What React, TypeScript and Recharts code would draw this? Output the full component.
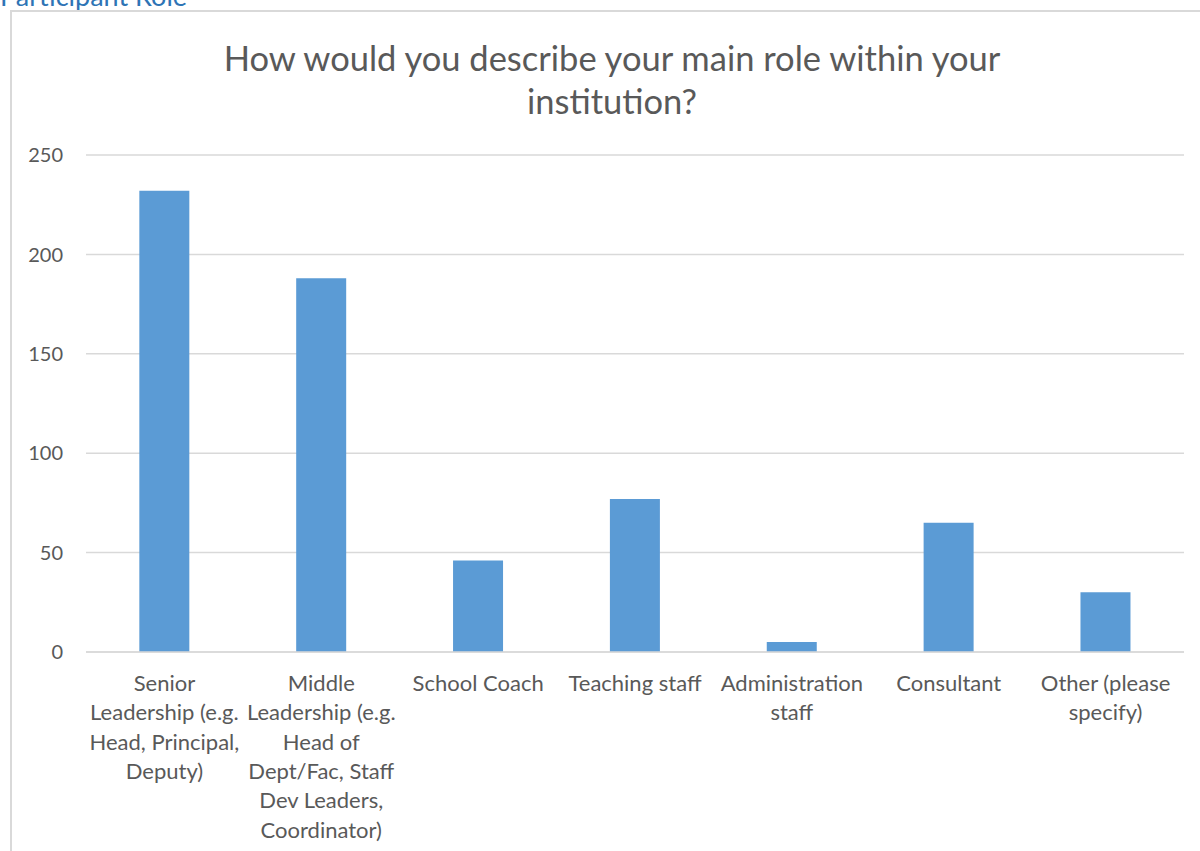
import React from 'react';
import { BarChart, Bar, XAxis, YAxis, CartesianGrid } from 'recharts';

const roles = [
  'Senior\nLeadership (e.g.\nHead, Principal,\nDeputy)',
  'Middle\nLeadership (e.g.\nHead of\nDept/Fac, Staff\nDev Leaders,\nCoordinator)',
  'School Coach',
  'Teaching staff',
  'Administration\nstaff',
  'Consultant',
  'Other (please\nspecify)',
];
const counts = [232, 188, 46, 77, 5, 65, 30];
const yTicks = [0, 50, 100, 150, 200, 250];

const data = roles.map((role, i) => ({ role, count: counts[i] }));

const FONT = 'Lato, "Open Sans", sans-serif';

const RoleTick = ({ x, y, payload }: any) => {
  const lines = String(payload.value).split('\n');
  return (
    <text x={x} y={y} textAnchor="middle" fill="#595959" fontSize={22} fontFamily={FONT}>
      {lines.map((line, i) => (
        <tspan key={i} x={x} dy={i === 0 ? 31 : 29.3}>
          {line}
        </tspan>
      ))}
    </text>
  );
};

export default function App() {
  return (
    <div
      style={{
        position: 'fixed',
        left: 0,
        top: 0,
        width: 1200,
        height: 851,
        overflow: 'hidden',
        background: '#fff',
        fontFamily: FONT,
      }}
    >
      <div
        style={{
          position: 'absolute',
          left: 0,
          top: -21,
          fontSize: 27,
          color: '#2E74B5',
          whiteSpace: 'nowrap',
        }}
      >
        Participant Role
      </div>
      <div
        style={{
          position: 'absolute',
          left: 10,
          top: 10,
          width: 1220,
          height: 880,
          border: '2px solid #d9d9d9',
          boxSizing: 'border-box',
        }}
      />
      <div
        style={{
          position: 'absolute',
          left: 0,
          width: 1224,
          top: 36,
          textAlign: 'center',
          fontSize: 34.5,
          lineHeight: '43px',
          color: '#595959',
        }}
      >
        How would you describe your main role within your
        <br />
        institution?
      </div>
      <div style={{ position: 'absolute', left: 0, top: 0 }}>
        <BarChart
          width={1200}
          height={851}
          data={data}
          margin={{ top: 155, right: 16, bottom: 0, left: 10 }}
          barCategoryGap="34%"
        >
          <CartesianGrid vertical={false} stroke="#d9d9d9" strokeWidth={1.5} />
          <XAxis
            dataKey="role"
            interval={0}
            tickLine={false}
            axisLine={{ stroke: '#d9d9d9', strokeWidth: 1.5 }}
            tick={<RoleTick />}
            height={199}
          />
          <YAxis
            domain={[0, 250]}
            ticks={yTicks}
            width={76}
            tickLine={false}
            axisLine={false}
            tickSize={0}
            tickMargin={23}
            tick={{ fill: '#595959', fontSize: 20, fontFamily: FONT }}
          />
          <Bar dataKey="count" fill="#5B9BD5" isAnimationActive={false} />
        </BarChart>
      </div>
    </div>
  );
}
